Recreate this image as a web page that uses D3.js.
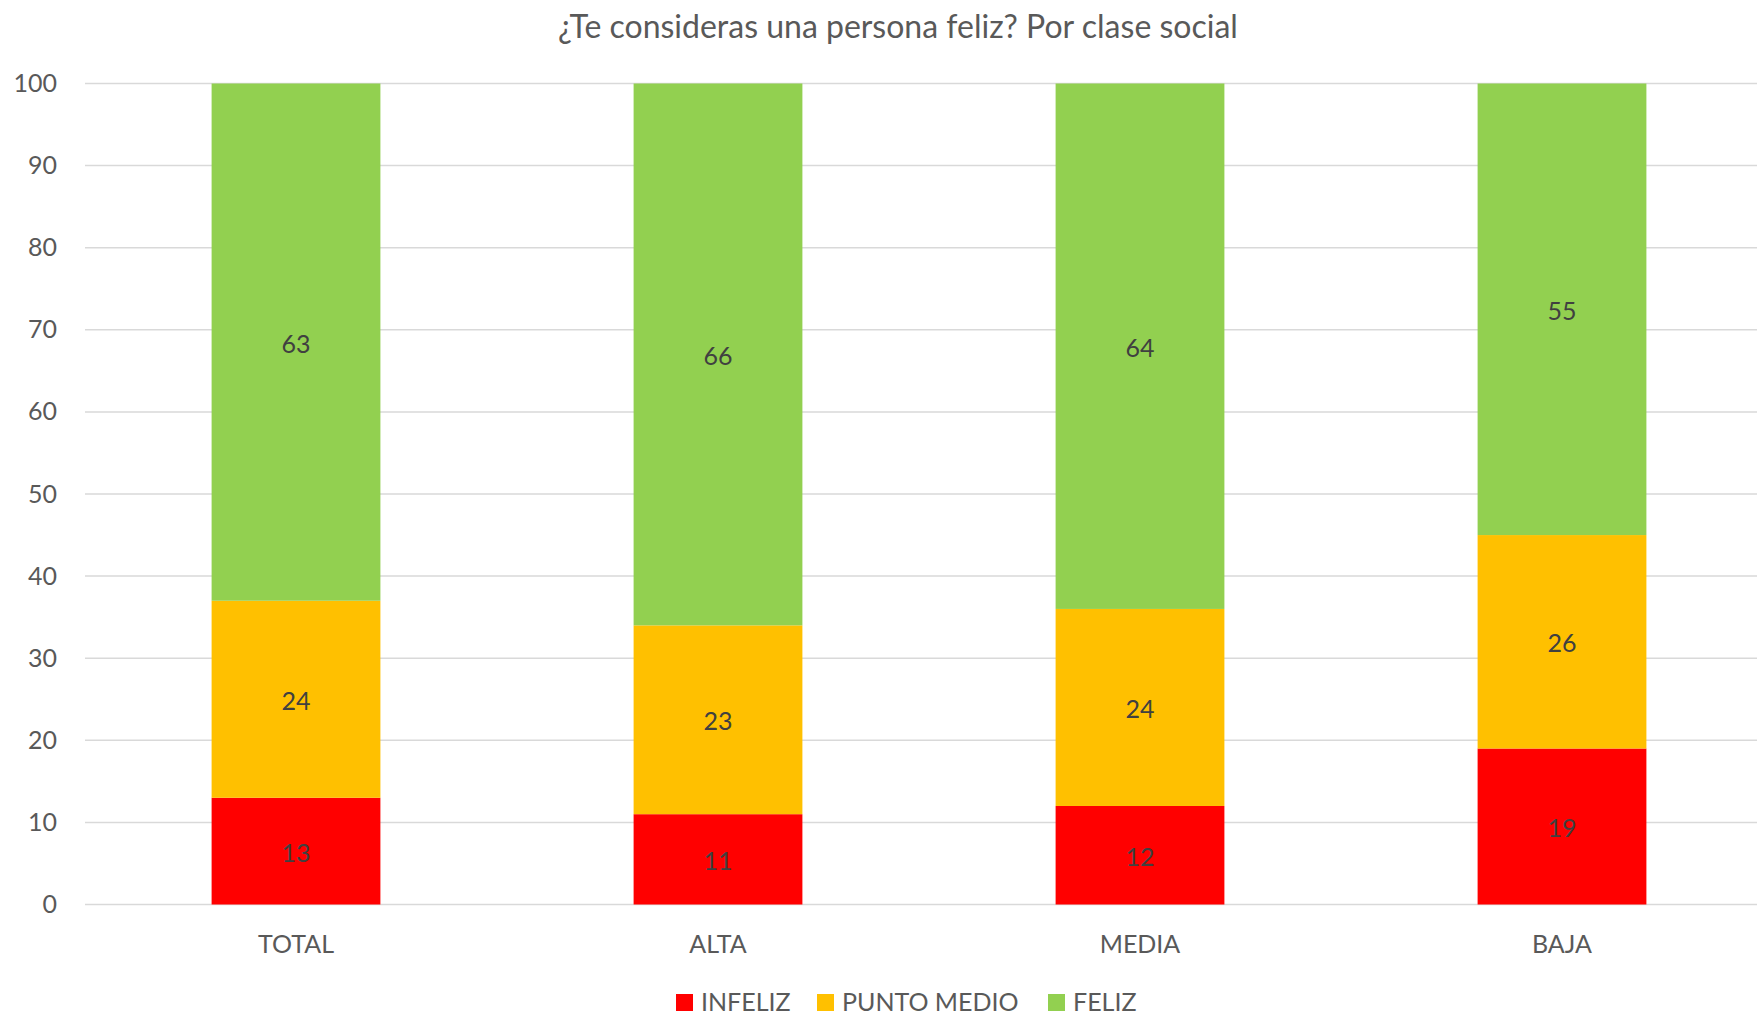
<!DOCTYPE html>
<html><head><meta charset="utf-8">
<script src="https://cdn.jsdelivr.net/npm/d3@7"></script>
<style>html,body{margin:0;padding:0;background:#fff;}svg{display:block;font-family:Lato,"Open Sans",sans-serif;}</style>
</head><body>
<svg id="c" width="1757" height="1015"></svg>
<script>
const title = "¿Te consideras una persona feliz? Por clase social";
const categories = ["TOTAL", "ALTA", "MEDIA", "BAJA"];
const seriesNames = ["INFELIZ", "PUNTO MEDIO", "FELIZ"];
const infeliz = [13, 11, 12, 19];
const puntoMedio = [24, 23, 24, 26];
const feliz = [63, 66, 64, 55];
const yTicks = [0, 10, 20, 30, 40, 50, 60, 70, 80, 90, 100];
const colors = ["#FF0000", "#FFC000", "#92D050"];

(function () {
const svg = d3.select("#c");
const pTop = 83.5, pBottom = 904.5, pLeft = 85, pRight = 1773;
const x = d3.scaleBand().domain(categories).range([pLeft, pRight]).paddingInner(0.6).paddingOuter(0.3);
const y = d3.scaleLinear().domain([0, 100]).range([pBottom, pTop]);

svg.append("text").attr("x", 898).attr("y", 38).attr("text-anchor", "middle")
  .attr("fill", "#595959").attr("font-size", 32).text(title);

// gridlines
svg.append("g").selectAll("line").data(yTicks).join("line")
  .attr("x1", pLeft).attr("x2", 1757).attr("y1", d => y(d)).attr("y2", d => y(d))
  .attr("stroke", "#D9D9D9").attr("stroke-width", 1.5);

// y axis labels
const yAxis = d3.axisLeft(y).tickValues(yTicks).tickSize(0).tickPadding(28);
const ya = svg.append("g").attr("transform", `translate(${pLeft},0)`).call(yAxis);
ya.select(".domain").remove();
ya.selectAll("text").attr("fill", "#595959").attr("font-size", 25).attr("font-family", "Lato,sans-serif");

// stacked data
const rows = categories.map((c, i) => ({cat: c, INFELIZ: infeliz[i], "PUNTO MEDIO": puntoMedio[i], FELIZ: feliz[i]}));
const stack = d3.stack().keys(seriesNames)(rows);

const g = svg.append("g");
stack.forEach((s, si) => {
  g.append("g").selectAll("rect").data(s).join("rect")
    .attr("x", d => x(d.data.cat)).attr("width", x.bandwidth())
    .attr("y", d => y(d[1])).attr("height", d => y(d[0]) - y(d[1]))
    .attr("fill", colors[si]);
});
stack.forEach((s, si) => {
  g.append("g").selectAll("text").data(s).join("text")
    .attr("x", d => x(d.data.cat) + x.bandwidth() / 2)
    .attr("y", d => (y(d[0]) + y(d[1])) / 2)
    .attr("dy", "0.42em").attr("text-anchor", "middle")
    .attr("fill", "#404040").attr("font-size", 25)
    .text(d => d[1] - d[0]);
});

// x axis labels
const xAxis = d3.axisBottom(x).tickSize(0).tickPadding(31);
const xa = svg.append("g").attr("transform", `translate(0,${pBottom})`).call(xAxis);
xa.select(".domain").remove();
xa.selectAll("text").attr("fill", "#595959").attr("font-size", 25).attr("font-family", "Lato,sans-serif");

// legend
const legendX = [676, 817, 1048];
const lg = svg.append("g");
seriesNames.forEach((n, i) => {
  lg.append("rect").attr("x", legendX[i]).attr("y", 994).attr("width", 17).attr("height", 17).attr("fill", colors[i]);
  lg.append("text").attr("x", legendX[i] + 25).attr("y", 1011).attr("fill", "#595959").attr("font-size", 25).text(n);
});
})();
</script>
</body></html>
